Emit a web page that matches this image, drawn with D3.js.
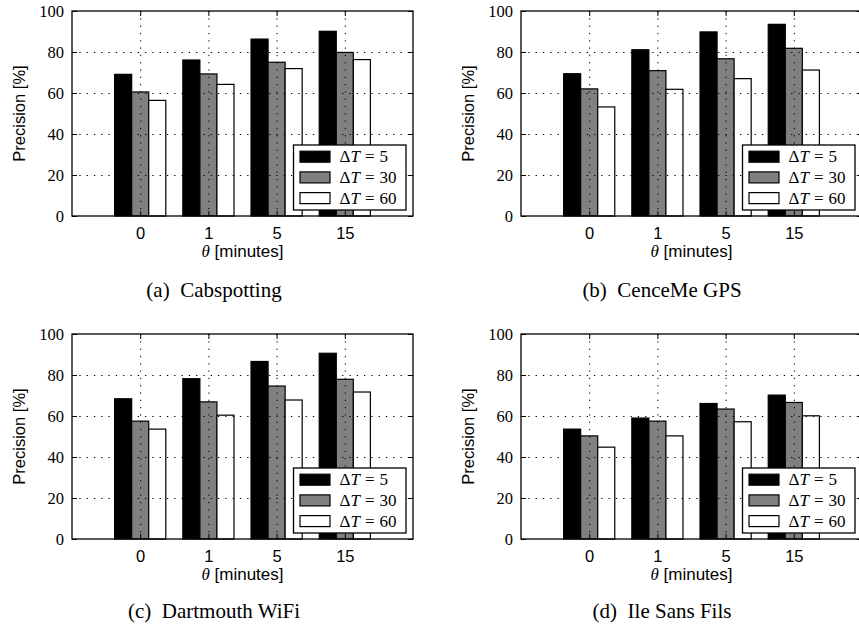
<!DOCTYPE html>
<html>
<head>
<meta charset="utf-8">
<script src="https://cdn.jsdelivr.net/npm/d3@7"></script>
<style>
  body { margin: 0; background: #fff; }
  svg { display: block; }
</style>
</head>
<body>
<div id="chart"></div>
<script>
// Data
const categories = ["0", "1", "5", "15"];
const seriesNames = ["5", "30", "60"];
const cabspotting = [[69.1, 76.1, 86.3, 90.1], [60.5, 69.3, 75.0, 79.8], [56.4, 64.2, 71.9, 76.3]];
const cenceme = [[69.4, 81.1, 89.8, 93.5], [62.0, 70.9, 76.7, 81.8], [53.2, 61.8, 67.0, 71.2]];
const dartmouth = [[68.4, 78.2, 86.6, 90.6], [57.5, 66.9, 74.6, 77.9], [53.6, 60.4, 67.8, 71.7]];
const ileSansFils = [[53.6, 59.0, 66.1, 70.2], [50.3, 57.5, 63.4, 66.6], [44.8, 50.3, 57.2, 60.1]];
const yTicks = [0, 20, 40, 60, 80, 100];
const captions = ["(a)\u2002Cabspotting", "(b)\u2002CenceMe GPS", "(c)\u2002Dartmouth WiFi", "(d)\u2002Ile Sans Fils"];

const panels = [
  { values: cabspotting, left: 72, top: 11, caption: captions[0], cx: 214, cy: 297 },
  { values: cenceme, left: 521, top: 11, caption: captions[1], cx: 662, cy: 297 },
  { values: dartmouth, left: 72, top: 334, caption: captions[2], cx: 214, cy: 618 },
  { values: ileSansFils, left: 521, top: 334, caption: captions[3], cx: 662, cy: 618 }
];

const width = 859, height = 631;
const pw = 341, ph = 205;
const fills = ["#000000", "#808080", "#ffffff"];
const serif = "'Liberation Serif', 'DejaVu Serif', serif";
const sans = "'Liberation Sans', Arial, sans-serif";

const svg = d3.select("#chart").append("svg")
  .attr("width", width)
  .attr("height", height);

const x = d3.scaleLinear().domain([-1, 4]).range([0, pw]);
const y = d3.scaleLinear().domain([0, 100]).range([ph, 0]);
const barW = x(0.25) - x(0);

panels.forEach(p => {
  const g = svg.append("g").attr("transform", `translate(${p.left},${p.top})`);

  // bars
  p.values.forEach((series, j) => {
    g.selectAll(null)
      .data(series)
      .enter().append("rect")
      .attr("x", (d, i) => x(i - 0.375 + j * 0.25))
      .attr("y", d => y(d))
      .attr("width", barW)
      .attr("height", d => y(0) - y(d))
      .attr("fill", fills[j])
      .attr("stroke", "#000")
      .attr("stroke-width", 1.2);
  });

  // dotted grid on top of bars
  const grid = g.append("g")
    .attr("stroke", "#000")
    .attr("stroke-width", 1)
    .attr("stroke-dasharray", "1.3,6");
  grid.selectAll(null)
    .data(yTicks.slice(1, -1))
    .enter().append("line")
    .attr("x1", 0).attr("x2", pw)
    .attr("y1", d => y(d) + 0.5).attr("y2", d => y(d) + 0.5);
  grid.selectAll(null)
    .data(categories)
    .enter().append("line")
    .attr("x1", (d, i) => x(i) + 0.5).attr("x2", (d, i) => x(i) + 0.5)
    .attr("y1", 0).attr("y2", ph);

  // axes with inward ticks
  const yAxis = d3.axisLeft(y).tickValues(yTicks).tickSize(-5).tickPadding(8);
  const gy = g.append("g").call(yAxis);
  gy.select(".domain").remove();
  gy.selectAll("text").attr("font-family", serif).attr("font-size", 16.5).attr("fill", "#000");

  const yAxisR = d3.axisRight(y).tickValues(yTicks).tickSize(-5).tickFormat("");
  const gyr = g.append("g").attr("transform", `translate(${pw},0)`).call(yAxisR);
  gyr.select(".domain").remove();

  const xAxis = d3.axisBottom(x).tickValues([0, 1, 2, 3]).tickFormat(i => categories[i]).tickSize(-5).tickPadding(11);
  const gx = g.append("g").attr("transform", `translate(0,${ph})`).call(xAxis);
  gx.select(".domain").remove();
  gx.selectAll("text").attr("font-family", sans).attr("font-size", 16.5).attr("fill", "#000");

  const xAxisT = d3.axisTop(x).tickValues([0, 1, 2, 3]).tickSize(-5).tickFormat("");
  const gxt = g.append("g").call(xAxisT);
  gxt.select(".domain").remove();

  // frame
  g.append("rect")
    .attr("x", 0).attr("y", 0)
    .attr("width", pw).attr("height", ph)
    .attr("fill", "none")
    .attr("stroke", "#000")
    .attr("stroke-width", 1.3);

  // legend
  const lw = 112.5, lh = 65;
  const lg = g.append("g").attr("transform", `translate(${pw - 7 - lw},${ph - 6 - lh})`);
  lg.append("rect")
    .attr("width", lw).attr("height", lh)
    .attr("fill", "#fff").attr("stroke", "#000").attr("stroke-width", 1.3);
  seriesNames.forEach((name, j) => {
    const cy = 11.7 + j * 20.7;
    lg.append("rect")
      .attr("x", 6.5).attr("y", cy - 5.5)
      .attr("width", 30).attr("height", 11)
      .attr("fill", fills[j]).attr("stroke", "#000").attr("stroke-width", 1.2);
    const t = lg.append("text")
      .attr("x", 46).attr("y", cy + 5.5)
      .attr("font-family", serif).attr("font-size", 17);
    t.append("tspan").text("\u0394");
    t.append("tspan").attr("font-style", "italic").text("T");
    t.append("tspan").attr("dx", 5).text("=");
    t.append("tspan").attr("dx", 5).text(name);
  });

  // axis labels
  const xl = g.append("text")
    .attr("x", pw / 2).attr("y", ph + 41)
    .attr("text-anchor", "middle")
    .attr("font-family", sans).attr("font-size", 17);
  xl.append("tspan").attr("font-family", serif).attr("font-style", "italic").text("\u03b8");
  xl.append("tspan").text(" [minutes]");

  g.append("text")
    .attr("transform", `translate(${-47},${ph / 2}) rotate(-90)`)
    .attr("text-anchor", "middle")
    .attr("font-family", sans).attr("font-size", 16.5)
    .text("Precision [%]");

  // caption
  svg.append("text")
    .attr("x", p.cx).attr("y", p.cy)
    .attr("text-anchor", "middle")
    .attr("font-family", serif).attr("font-size", 21)
    .text(p.caption);
});
</script>
</body>
</html>
